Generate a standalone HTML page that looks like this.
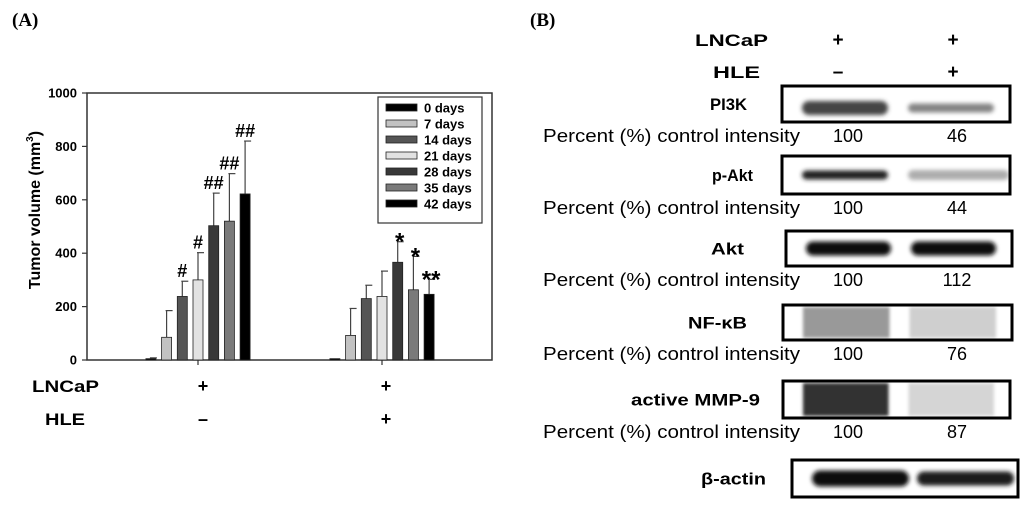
<!DOCTYPE html>
<html><head><meta charset="utf-8"><style>
body{margin:0;background:#fff;width:1024px;height:506px;overflow:hidden}
svg{display:block;font-family:"Liberation Sans",sans-serif}
</style></head><body>
<svg id="fig" width="1024" height="506" viewBox="0 0 1024 506">
<defs>
<filter id="blur" x="-20%" y="-80%" width="140%" height="260%"><feGaussianBlur stdDeviation="2"/></filter>
<filter id="blur2"><feGaussianBlur stdDeviation="1.5"/></filter>
</defs>
<text x="12" y="26" font-family="Liberation Serif" font-weight="bold" font-size="19">(A)</text>
<text x="530" y="26" font-family="Liberation Serif" font-weight="bold" font-size="19">(B)</text>
<g id="chart"></g>
<g id="blots"></g>
</svg>
<script>
const categories = ["LNCaP", "LNCaP + HLE"];
const seriesNames = ["0 days","7 days","14 days","21 days","28 days","35 days","42 days"];
const seriesColors = ["#000","#c2c2c2","#555","#e2e2e2","#383838","#7a7a7a","#000"];
const valuesLNCaP = [5, 85, 238, 300, 503, 520, 622];
const errorsLNCaP = [3, 100, 57, 102, 122, 178, 198];
const valuesHLE = [5, 92, 230, 238, 366, 263, 246];
const errorsHLE = [0, 101, 50, 95, 77, 125, 56];
const marksLNCaP = ["", "", "#", "#", "##", "##", "##"];
const marksHLE = ["", "", "", "", "*", "*", "**"];
const yTicks = [0, 200, 400, 600, 800, 1000];

const NS="http://www.w3.org/2000/svg";
function mk(parent,tag,attrs,text){const e=document.createElementNS(NS,tag);for(const k in attrs)e.setAttribute(k,attrs[k]);if(text!==undefined)e.textContent=text;parent.appendChild(e);return e;}
const chart=document.getElementById('chart');
const X0=87,X1=492,Y0=360,Y1=93,yMax=1000;
const y=v=>Y0-(v/yMax)*(Y0-Y1);
const groupCenters=[198,382];
const pitch=15.7,bw=10;
const xBar=(g,i)=>groupCenters[g]+(i-3)*pitch-bw/2;

let ax=mk(chart,'rect',{x:X0,y:Y1,width:X1-X0,height:Y0-Y1,fill:'none',stroke:'#333','stroke-width':1.5});


yTicks.forEach(t=>{
  let l=mk(chart,'line',{x1:X0-5,x2:X0,y1:y(t),y2:y(t),stroke:'#333','stroke-width':1.2});
  
  
  let tx=mk(chart,'text',{x:X0-10,y:y(t)+4.5,'text-anchor':'end','font-size':13,'font-weight':'bold'},String(t));
  
  
});
groupCenters.forEach(c=>{
  let l=mk(chart,'line',{x1:c,x2:c,y1:Y0,y2:Y0+5,stroke:'#333','stroke-width':1.2});
  
  
});
let yt=mk(chart,'text',{transform:'translate(40,210) rotate(-90)','text-anchor':'middle','font-size':16,'font-weight':'bold'});


yt.appendChild(document.createTextNode('Tumor volume (mm'));
mk(yt,'tspan',{'font-size':10,dy:-7},'3');
mk(yt,'tspan',{dy:7},')');

[[valuesLNCaP,errorsLNCaP,marksLNCaP],[valuesHLE,errorsHLE,marksHLE]].forEach((d,g)=>{
  d[0].forEach((v,i)=>{
    const x=xBar(g,i);
    const top=v+d[1][i];
    if(d[1][i]>0){
      let e=mk(chart,'line',{x1:x+bw/2,x2:x+bw/2,y1:y(v),y2:y(top),stroke:'#444','stroke-width':1.2});
      
      
      let c=mk(chart,'line',{x1:x+bw/2-1,x2:x+bw/2+6,y1:y(top),y2:y(top),stroke:'#444','stroke-width':1.2});
      
      
    }
    let r=mk(chart,'rect',{x:x,y:y(v),width:bw,height:Math.max(Y0-y(v),1),fill:seriesColors[i],stroke:'#222','stroke-width':0.8});
    
    
    if(d[2][i]){
      const star=d[2][i].indexOf('*')>=0;
      let m=mk(chart,'text',{x:x+bw/2+(star?2:0),y:y(top)-4+(star?12:0),'text-anchor':'middle','font-size':star?24:18,'font-weight':'bold'},d[2][i]);
      
      
    }
  });
});

const lg=mk(chart,'g',{});


mk(lg,'rect',{x:378,y:97,width:104,height:126,fill:'#fff',stroke:'#333','stroke-width':1.2});
seriesNames.forEach((n,i)=>{
  const ly=104+i*16;
  let s=mk(lg,'rect',{x:386,y:ly,width:31,height:7,fill:seriesColors[i],stroke:'#222','stroke-width':0.8});
  
  
  let t=mk(lg,'text',{x:424,y:ly+8.5,'font-size':13,'font-weight':'bold'},n);
  
  
});

[['LNCaP',32,392,67,['+','+']],['HLE',45,425,40,['\u2013','+']]].forEach(r=>{
  let t=mk(chart,'text',{x:r[1],y:r[2],'font-size':17,'font-weight':'bold',textLength:r[3],lengthAdjust:'spacingAndGlyphs'},r[0]);
  
  
  r[4].forEach((s,k)=>{
    let p=mk(chart,'text',{x:[203,386][k],y:r[2],'font-size':18,'font-weight':'bold','text-anchor':'middle'},s);
    
    
  });
});

const bl=document.getElementById('blots');
[['LNCaP',695,46,73,['+','+']],['HLE',713,78,47,['\u2013','+']]].forEach(r=>{
  let t=mk(bl,'text',{x:r[1],y:r[2],'font-size':17,'font-weight':'bold',textLength:r[3],lengthAdjust:'spacingAndGlyphs'},r[0]);
  
  
  r[4].forEach((s,k)=>{
    let p=mk(bl,'text',{x:[838,953][k],y:r[2],'font-size':19,'font-weight':'bold','text-anchor':'middle'},s);
    
    
  });
});
const proteins=["PI3K","p-Akt","Akt","NF-\u03baB","active MMP-9","\u03b2-actin"];
const intensityCtrl=[100,100,100,100,100,null];
const intensityHLE=[46,44,112,76,87,null];
const boxes=[[782,86,228,36],[782,156,228,38],[786,231,226,35],[783,305,229,35],[783,381,227,37],[792,460,226,37]];
const labelLayout=[[710,37],[712,41],[711,33],[688,59],[631,129],[701,65]];
const bandStyle=[[[1,'#444',14,'b'],[0.9,'#777',9,'b']],[[1,'#222',9,'b'],[0.8,'#999',10,'b']],[[1,'#111',14,'b'],[1,'#111',14,'b']],[[0.85,'#888',30,'s'],[0.7,'#bbb',30,'s']],[[1,'#333',34,'s'],[0.7,'#c4c4c4',30,'s']],[[1,'#111',16,'b'],[1,'#1a1a1a',14,'b']]];
proteins.forEach((p,i)=>{
  const [bx,by,bw2,bh]=boxes[i];
  let t=mk(bl,'text',{x:labelLayout[i][0],y:by+bh/2+6,'font-size':17,'font-weight':'bold',textLength:labelLayout[i][1],lengthAdjust:'spacingAndGlyphs'},p);
  
  
  const g=mk(bl,'g',{});
  
  
  mk(g,'rect',{x:bx,y:by,width:bw2,height:bh,fill:'#fff'});
  bandStyle[i].forEach((b,k)=>{
    const lx=k===0?bx+20:bx+bw2/2+12;
    const lw=bw2/2-28+(i===5?12:0)+(i===1&&k===1?15:0);
    if(b[3]==='b'){
      let e=mk(g,'rect',{x:lx,y:by+bh/2-b[2]/2+(i==0?4:0),width:lw,height:b[2],rx:b[2]/2,fill:b[1],opacity:b[0],filter:'url(#blur)'});
      
      
    } else {
      let e=mk(g,'rect',{x:lx,y:by+2,width:lw,height:bh-4,fill:b[1],opacity:b[0],filter:'url(#blur2)'});
      
      
    }
  });
  mk(g,'rect',{x:bx,y:by,width:bw2,height:bh,fill:'none',stroke:'#000','stroke-width':3});
  if(intensityCtrl[i]!==null){
    const ty=by+bh+20;
    let pt=mk(bl,'text',{x:543,y:ty,'font-size':18,textLength:257,lengthAdjust:'spacingAndGlyphs'},'Percent (%) control intensity');
    
    
    let a=mk(bl,'text',{x:848,y:ty,'font-size':18,'text-anchor':'middle'},String(intensityCtrl[i]));
    
    
    let b=mk(bl,'text',{x:957,y:ty,'font-size':18,'text-anchor':'middle'},String(intensityHLE[i]));
    
    
  }
});
</script>
</body></html>
